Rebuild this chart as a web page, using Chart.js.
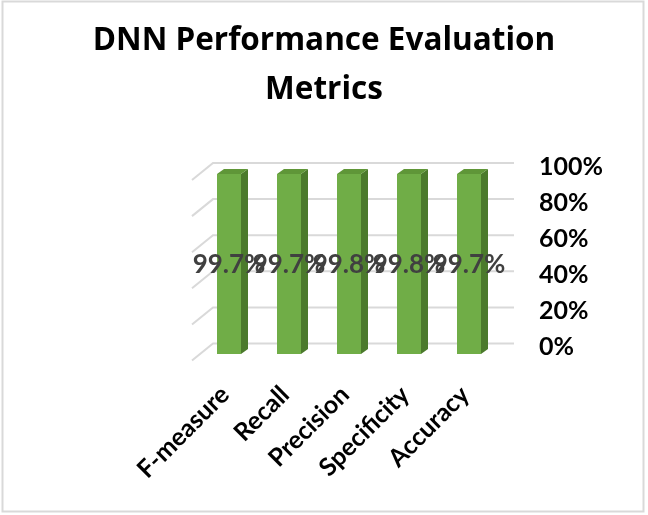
<!DOCTYPE html>
<html>
<head>
<meta charset="utf-8">
<script src="https://cdn.jsdelivr.net/npm/chart.js@4.4.0/dist/chart.umd.min.js"></script>
<style>
html,body{margin:0;padding:0;background:#fff;}
canvas{display:block;}
</style>
</head>
<body>
<canvas id="c" width="648" height="515"></canvas>
<script>
const categories = ['F-measure', 'Recall', 'Precision', 'Specificity', 'Accuracy'];
const values = [99.7, 99.7, 99.8, 99.8, 99.7];
const tickValues = [0, 20, 40, 60, 80, 100];
const titleLines = ['DNN Performance Evaluation', 'Metrics'];

const FONT = 'Lato, "Open Sans", sans-serif';
const TITLE_FONT = '"Open Sans", Lato, sans-serif';

const bg3d = {
  id: 'bg3d',
  beforeDraw(chart) {
    const {ctx, width, height} = chart;
    ctx.save();
    ctx.fillStyle = '#ffffff';
    ctx.fillRect(0, 0, width, height);
    ctx.strokeStyle = '#d9d9d9';
    ctx.lineWidth = 2;
    ctx.strokeRect(2.5, 1.5, 641, 510);
    ctx.restore();
  },
  beforeDatasetsDraw(chart) {
    const {ctx, chartArea} = chart;
    const y = chart.scales.y;
    ctx.save();
    ctx.strokeStyle = '#d9d9d9';
    ctx.lineWidth = 2;
    tickValues.forEach(v => {
      const yb = y.getPixelForValue(v) - 10.5;
      ctx.beginPath();
      ctx.moveTo(chartArea.left - 7, yb + 17);
      ctx.lineTo(chartArea.left + 14, yb);
      ctx.lineTo(chartArea.right + 15, yb);
      ctx.stroke();
    });
    ctx.restore();
  },
  afterDatasetsDraw(chart) {
    const {ctx} = chart;
    const meta = chart.getDatasetMeta(0);
    const dx = 7, dy = -5;
    ctx.save();
    meta.data.forEach(bar => {
      const p = bar.getProps(['x', 'y', 'base', 'width'], true);
      const l = p.x - p.width / 2, r = p.x + p.width / 2;
      ctx.fillStyle = '#4b7a2c';
      ctx.beginPath();
      ctx.moveTo(r, p.y);
      ctx.lineTo(r + dx, p.y + dy);
      ctx.lineTo(r + dx, p.base + dy);
      ctx.lineTo(r, p.base);
      ctx.closePath();
      ctx.fill();
      ctx.fillStyle = '#5f9638';
      ctx.beginPath();
      ctx.moveTo(l, p.y);
      ctx.lineTo(l + dx, p.y + dy);
      ctx.lineTo(r + dx, p.y + dy);
      ctx.lineTo(r, p.y);
      ctx.closePath();
      ctx.fill();
    });
    ctx.fillStyle = '#404040';
    ctx.font = 'bold 26px ' + FONT;
    ctx.textAlign = 'center';
    ctx.textBaseline = 'middle';
    meta.data.forEach((bar, i) => {
      const p = bar.getProps(['x', 'y', 'base'], true);
      ctx.fillText(values[i].toFixed(1) + '%', p.x, (p.y + p.base) / 2 + 1);
    });
    ctx.restore();
  }
};

new Chart(document.getElementById('c'), {
  type: 'bar',
  data: {
    labels: categories,
    datasets: [{
      data: values,
      backgroundColor: '#70ad47',
      borderWidth: 0,
      barPercentage: 0.4,
      categoryPercentage: 1.0
    }]
  },
  options: {
    responsive: false,
    animation: false,
    devicePixelRatio: 1,
    layout: {padding: 0},
    plugins: {
      legend: {display: false},
      tooltip: {enabled: false},
      title: {
        display: true,
        text: titleLines,
        color: '#000000',
        font: {family: TITLE_FONT, size: 31.5, weight: 'bold', lineHeight: 1.54},
        padding: {top: 17, bottom: 59.5}
      }
    },
    scales: {
      x: {
        grid: {display: false, drawTicks: false},
        border: {display: false},
        ticks: {
          autoSkip: false,
          minRotation: 45,
          maxRotation: 45,
          padding: 26,
          labelOffset: -4,
          color: '#000000',
          font: {family: FONT, size: 25, weight: 'bold'}
        },
        afterFit(s) { s.height = 161; }
      },
      yl: {
        position: 'left',
        display: true,
        grid: {display: false, drawTicks: false},
        border: {display: false},
        ticks: {display: false},
        afterFit(s) { s.width = 199; }
      },
      y: {
        position: 'right',
        min: 0,
        max: 100,
        grid: {display: false, drawTicks: false},
        border: {display: false},
        ticks: {
          stepSize: 20,
          padding: 40,
          labelOffset: -7,
          color: '#000000',
          font: {family: FONT, size: 25, weight: 'bold'},
          callback: v => v + '%'
        },
        afterFit(s) { s.width = 149; }
      }
    }
  },
  plugins: [bg3d]
});
</script>
</body>
</html>
